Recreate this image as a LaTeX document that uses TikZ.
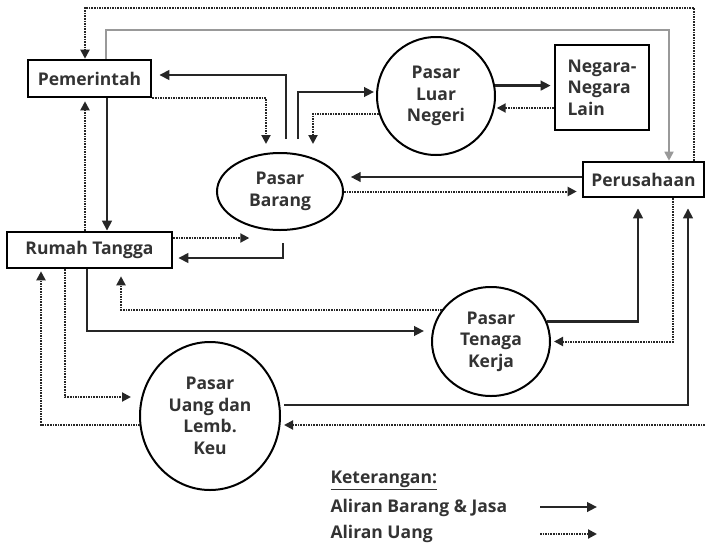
\documentclass[tikz,border=0pt]{standalone}
\usepackage{fontspec}
\setmainfont{Open Sans}
\usetikzlibrary{arrows.meta,shapes.geometric,calc}
\begin{document}
\begin{tikzpicture}[x=1pt,y=-1pt,
  txt/.style={font=\fontsize{17.5}{21.5}\selectfont\bfseries, text=black!80},
  box/.style={txt, draw, line width=2.6pt, inner sep=0pt},
  mkt/.style={txt, draw, ellipse, line width=2pt, inner sep=0pt, align=center},
  goods/.style={line width=2.8pt, draw=black!85, -{Triangle[length=10pt,width=9.5pt]}},
  money/.style={line width=2pt, draw=black!85, dash pattern=on 1.6pt off 1pt, -{Triangle[length=9pt,width=9pt]}},
  govline/.style={line width=1.7pt, draw=black!40, -{Triangle[length=9pt,width=9pt]}}
]
\useasboundingbox (0,0) rectangle (705,547);

% nodes
\node[box, minimum width=123pt, minimum height=37pt] (pem) at (89.5,78.5) {Pemerintah};
\node[box, minimum width=165pt, minimum height=36pt] (rt) at (89.5,250) {Rumah Tangga};
\node[box, minimum width=121pt, minimum height=35pt] (per) at (643.5,179.5) {Perusahaan};
\node[box, minimum width=94pt, minimum height=85pt, align=left] (nnl) at (602,87.5) {Negara-\\Negara\\Lain};
\node[mkt, minimum width=126pt, minimum height=77pt] (pb) at (280,191.5) {Pasar\\Barang};
\node[mkt, minimum width=118pt, minimum height=118pt] (pln) at (436,96) {Pasar\\Luar\\Negeri};
\node[mkt, minimum width=118pt, minimum height=109pt] (ptk) at (491,341.5) {Pasar\\Tenaga\\Kerja};
\node[mkt, minimum width=140pt, minimum height=148pt] (pu) at (210,416) {Pasar\\Uang dan\\Lemb.\\Keu};

% top loops
\draw[govline] ($(pem.north)+(16.5,0)$) -- ++(0,-29) -| ($(per.north)+(25.5,0)$);
\draw[money] ($(per.north)+(50.5,0)$) -- ++(0,-153) -| ($(pem.north)+(-4.5,0)$);

% Pemerintah <-> Pasar Barang
\draw[money] (pem.south east) -| ($(pb.north)+(-14,-8)$);
\draw[goods] ($(pb.north)+(6,-13)$) |- ($(pem.east)+(7,-3.5)$);

% Pasar Barang <-> Pasar Luar Negeri
\draw[goods] ($(pb.north)+(18,-13)$) |- ($(pln.west)+(-2,-4)$);
\draw[money] (pln.197) -| ($(pb.north)+(33,-8)$);

% Pasar Luar Negeri <-> Negara-Negara Lain
\draw[goods, shorten >=3pt] (pln.10) -- (pln.10 -| nnl.west);
\draw[money] ($(nnl.west)+(0,20.5)$) -- ($(nnl.west)+(-57,20.5)$);

% Perusahaan <-> Pasar Barang
\draw[goods] ($(per.west)+(0,-2.5)$) -- ($(per.west)+(-231,-2.5)$);
\draw[money] (pb.east) -- ($(per.west)+(-5,12)$);

% Rumah Tangga <-> Pasar Barang
\draw[money] ($(rt.east)+(0,-12)$) -- ($(rt.east)+(76,-12)$);
\draw[goods] ($(pb.south)+(3,12)$) |- ($(rt.east)+(5,8)$);

% Pemerintah <-> Rumah Tangga
\draw[goods] ($(pem.south)+(17.5,0)$) -- ($(rt.north)+(17.5,0)$);
\draw[money] ($(rt.north)+(-4.5,0)$) -- ($(pem.south)+(-4.5,3)$);

% Rumah Tangga <-> Pasar Uang
\draw[money] ($(rt.south)+(-24.5,0)$) |- ($(pu.west)+(-8,-19)$);
\draw[money] ($(pu.west)+(1,9)$) -| ($(rt.south)+(-48.5,2)$);

% Rumah Tangga <-> Pasar Tenaga Kerja
\draw[money] (ptk.147) -| ($(rt.south)+(31.5,7)$);
\draw[goods] ($(rt.south)+(-2.5,0)$) |- ($(ptk.west)+(-7,-10.5)$);

% Pasar Tenaga Kerja <-> Perusahaan
\draw[goods] (ptk.20.5) -| ($(per.south)+(-5.5,10)$);
\draw[money] ($(per.south)+(29.5,0)$) |- ($(ptk.east)+(3,0)$);

% Pasar Uang <-> Perusahaan
\draw[goods] ($(pu.east)+(3,-11)$) -| ($(per.south)+(44.5,10)$);
\coordinate (redge) at (705,425);
\draw[money] (redge) -- ($(pu.east)+(3,9)$);

% legend
\node[txt, anchor=west] (ket) at (327,480) {\underline{Keterangan:}};
\node[txt, anchor=west] (lg1) at (327,508) {Aliran Barang \& Jasa};
\node[txt, anchor=west] (lg2) at (327,534) {Aliran Uang};
\coordinate (l1a) at (540,507);
\coordinate (l1b) at (597,507);
\coordinate (l2a) at (540,534);
\coordinate (l2b) at (597,534);
\draw[goods] (l1a) -- (l1b);
\draw[money] (l2a) -- (l2b);
\end{tikzpicture}
\end{document}
